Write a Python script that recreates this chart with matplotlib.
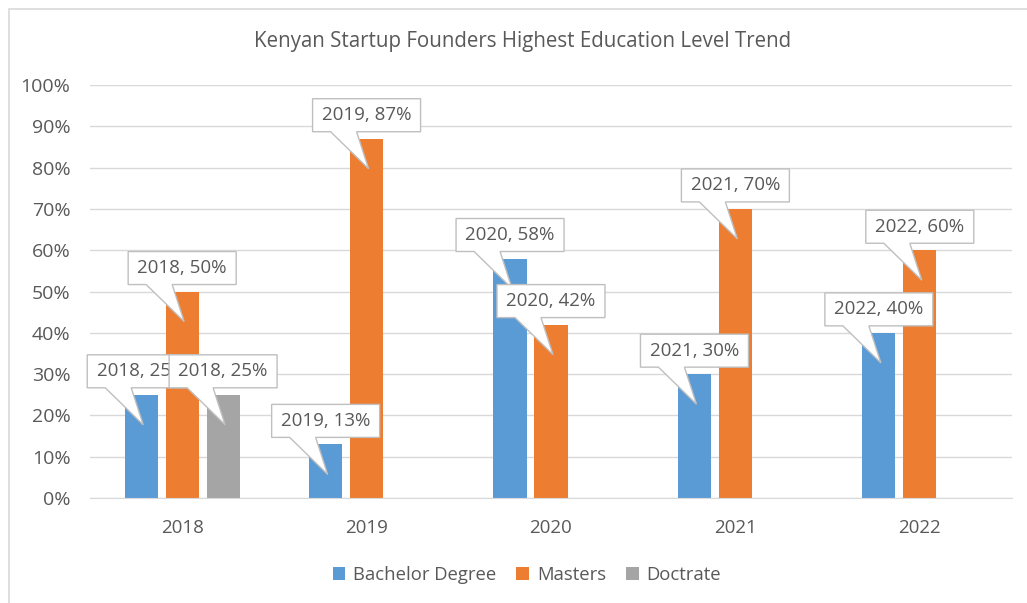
import matplotlib
matplotlib.use("Agg")
import matplotlib.pyplot as plt
import matplotlib.transforms as mtransforms
from matplotlib.patches import Polygon, Rectangle
from matplotlib.ticker import PercentFormatter, MultipleLocator
import numpy as np

years = ["2018", "2019", "2020", "2021", "2022"]
bachelor = [25, 13, 58, 30, 40]
masters = [50, 87, 42, 70, 60]
doctrate = [25, None, None, None, None]

series = [("Bachelor Degree", bachelor, "#5B9BD5"),
          ("Masters", masters, "#ED7D31"),
          ("Doctrate", doctrate, "#A5A5A5")]

txt = "#595959"
grid = "#d9d9d9"
plt.rcParams["font.family"] = ["Open Sans", "DejaVu Sans"]

fig = plt.figure(figsize=(10.27, 6.03), dpi=100)
ax = fig.add_axes([0.0876, 0.174, 0.8978, 0.685])

# outer chart border
fig.patches.append(Rectangle((9 / 1027, -0.05), 1.1, 1 - 9 / 603 + 0.05,
                             transform=fig.transFigure, fill=False,
                             edgecolor=grid, linewidth=1.2))

x = np.arange(len(years))
width = 0.18
offsets = [-0.222, 0.0, 0.222]

handles = []
for (name, vals, col), off in zip(series, offsets):
    v = np.array([np.nan if a is None else a / 100 for a in vals])
    b = ax.bar(x + off, v, width, color=col, label=name, zorder=2)
    handles.append(b)

# callouts (box + wedge) in pixel offsets from bar top
shape = [(-54, 7), (-36, 7), (2, -30), (-10, 7), (54, 7), (54, 40), (-54, 40)]
z = 5
for (name, vals, col), off in zip(series, offsets):
    for i, a in enumerate(vals):
        if a is None:
            continue
        tr = mtransforms.Affine2D() + mtransforms.ScaledTranslation(
            x[i] + off, a / 100, ax.transData)
        poly = Polygon(shape, closed=True, transform=tr, facecolor="white",
                       edgecolor="#bfbfbf", linewidth=1, zorder=z, clip_on=False)
        ax.add_patch(poly)
        ax.text(0, 23.5, f"{years[i]}, {a}%", transform=tr, ha="center",
                va="center", fontsize=13.5, color=txt, zorder=z + 0.5,
                clip_on=False)
        z += 1

ax.set_xlim(-0.5, len(years) - 0.5)
ax.set_ylim(0, 1)
ax.yaxis.set_major_locator(MultipleLocator(0.1))
ax.yaxis.set_major_formatter(PercentFormatter(1.0, decimals=0))
ax.set_xticks(x)
ax.set_xticklabels(years)
ax.tick_params(axis="both", length=0, labelcolor=txt)
ax.tick_params(axis="y", pad=14, labelsize=14)
ax.tick_params(axis="x", pad=15, labelsize=13.5)
ax.grid(axis="y", color=grid, linewidth=1, zorder=0)
ax.set_axisbelow(True)
for s in ["top", "right", "left"]:
    ax.spines[s].set_visible(False)
ax.spines["bottom"].set_color(grid)

fig.text(0.509, 1 - 42 / 603, "Kenyan Startup Founders Highest Education Level Trend",
         ha="center", va="center", fontsize=14.8, color=txt)

fig.legend(handles=handles, loc="center", bbox_to_anchor=(0.513, 1 - 575 / 603),
           ncol=3, frameon=False, fontsize=13.3, labelcolor=txt,
           handlelength=0.7, handleheight=0.7, handletextpad=0.4,
           columnspacing=1.1)

fig.savefig("out.png", dpi=100)
